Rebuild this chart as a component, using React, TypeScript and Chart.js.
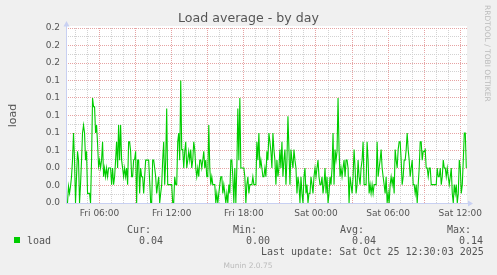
import React, { useEffect, useRef } from 'react';
import { Chart, registerables } from 'chart.js';

Chart.register(...registerables);

// ---- Data (5-minute samples, Fri 03:20 -> Sat 12:30) ----
const sampleStartHour = 3 + 20 / 60; // Fri 03:20, hours since Fri 00:00
const sampleStepHours = 5 / 60;

const loadFriMorning = [
  0, 0.019, 0.011, 0.019, 0.03, 0.049, 0.08, 0.049, 0, 0.03,
  0.059, 0.049, 0, 0.021, 0.049, 0.08, 0.089, 0.08, 0.049, 0.059,
  0.011, 0.011, 0.011, 0, 0.049, 0.12, 0.11, 0.11, 0.08, 0.089,
  0.068, 0.042, 0.049, 0.04, 0.049, 0.07, 0.03, 0.04, 0.03, 0.04,
  0.03, 0.04, 0.04, 0.04, 0.021, 0.04, 0.021, 0.03, 0.049, 0.07, 0.04, 0.089,
  0.049, 0.089, 0.049, 0.04, 0.03, 0.04, 0.03, 0.04, 0.021, 0.07,
  0.07, 0.059, 0.03, 0.03, 0.049, 0.05, 0.059, 0, 0.049, 0.049, 0.011,
  0.04, 0.03, 0.03, 0.011, 0.03, 0.049, 0.049, 0.049, 0.049, 0.025, 0,
  0, 0.049, 0.049, 0.04, 0.03, 0.011, 0.021, 0.03, 0, 0.011,
  0.021, 0.049, 0.07, 0.021, 0.049, 0.108, 0.021, 0.021, 0.021, 0.021,
  0.021, 0, 0, 0.03, 0.021, 0.021, 0.07, 0.08, 0.049, 0.14,
  0.061, 0.061, 0.04, 0.059, 0.07, 0.04, 0.049, 0.059, 0.049, 0.061,
];

const loadFriEvening = [
  0.04, 0.049, 0.07, 0.061, 0.04, 0.03, 0.04, 0.03, 0.049, 0.049,
  0.04, 0.049, 0.059, 0.04, 0.049, 0.03, 0.03, 0.089, 0.04, 0.021,
  0.03, 0.021, 0.021, 0.021, 0, 0.011, 0, 0.011, 0.021, 0.03,
  0.03, 0.011, 0.021, 0.011, 0, 0.011, 0, 0.021, 0.011, 0.049,
  0.049, 0.03, 0, 0.04, 0, 0.04, 0.108, 0.049, 0.12, 0.04,
  0.04, 0.04, 0.04, 0.03, 0, 0.021, 0.03, 0.011, 0.021, 0.021,
  0.021, 0.03, 0.021, 0.021, 0.021, 0.07, 0.049, 0.08, 0.04, 0.049,
  0.04, 0.03, 0.03, 0.04, 0.03, 0.059, 0.049, 0.08, 0.07, 0.059,
  0.04, 0.08, 0.061, 0.049, 0.021, 0.049, 0.03, 0.04, 0.061, 0.04,
  0.07, 0.03, 0.049, 0.061, 0.021, 0.049, 0.099, 0.061, 0.021, 0.061,
  0.049, 0.04, 0.061, 0.049, 0.04, 0.011, 0.03, 0.021, 0, 0.03,
  0.011, 0, 0.03, 0.04, 0.011, 0.021, 0, 0.011, 0.011, 0.03,
  0.021, 0.011, 0.03, 0.04, 0.03, 0.04, 0.049, 0.03, 0.021,
];

const loadSaturday = [
  0.021, 0.03, 0.011, 0.021, 0.04, 0.011, 0.03, 0, 0.011, 0.03,
  0.021, 0.04, 0.08, 0.021, 0.061, 0.049, 0.059, 0.12, 0.061, 0.03,
  0.04, 0.03, 0.04, 0.049, 0.03, 0.049, 0.049, 0.04, 0, 0.03,
  0.021, 0.011, 0.03, 0.061, 0.04, 0.011, 0.021, 0.049, 0.03, 0.021,
  0.04, 0.049, 0.07, 0.021, 0.021, 0.021, 0.07, 0.049, 0.011, 0.021,
  0.011, 0.021, 0.011, 0.021, 0.021, 0.021, 0.07, 0.03, 0.04, 0.049,
  0.061, 0.04, 0.03, 0.021, 0.011, 0.03, 0, 0.011, 0, 0.021,
  0.03, 0.021, 0.03, 0.011, 0.061, 0.049, 0.04, 0.061, 0.07, 0.07,
  0.049, 0.021, 0.03, 0.049, 0.049, 0.061, 0.08, 0.061, 0.049, 0.03,
  0.04, 0.049, 0.021, 0.021, 0.011, 0.021, 0, 0.021, 0.04, 0.07,
  0.07, 0.049, 0.059, 0.059, 0.061, 0.04, 0.04, 0.03, 0.04, 0.04,
  0.021, 0.021, 0.021, 0.021, 0.021, 0.021, 0.04, 0.03, 0.03, 0.04,
  0.021, 0.03, 0.049, 0.04, 0.04, 0.03, 0.04, 0.03, 0.021, 0.03,
  0.04, 0.011, 0, 0.021, 0.011, 0.021, 0, 0.011, 0.049, 0.04,
  0.011, 0.021, 0.049, 0.08, 0.08, 0.04,
];

const loadValues = [...loadFriMorning, ...loadFriEvening, ...loadSaturday];

// ---- Axes ----
const xMinHour = 3.25 - 0.5 / 12; // Fri ~03:12 (half-pixel aligned)
const xMaxHour = 36.6 - 0.5 / 12; // Sat ~12:33
const xLabelHours = [6, 12, 18, 24, 30, 36];
const xLabels = ['Fri 06:00', 'Fri 12:00', 'Fri 18:00', 'Sat 00:00', 'Sat 06:00', 'Sat 12:00'];
const yTickLabels = ['0.0', '0.0', '0.0', '0.1', '0.1', '0.1', '0.1', '0.1', '0.2', '0.2', '0.2'];
const yMax = 0.2;

// ---- Legend ----
const seriesName = 'load';
const legendHeaders = ['Cur:', 'Min:', 'Avg:', 'Max:'];
const legendValues = ['0.04', '0.00', '0.04', '0.14'];
const lastUpdate = 'Last update: Sat Oct 25 12:30:03 2025';

const MAJOR = '#E6A3A3';
const MINOR = '#D2D2D2';
const AXIS = '#C8D0F2';
const GREEN = '#00CC00';
const TEXT = '#555555';

const muninPlugin = {
  id: 'munin',
  beforeDraw(chart: any) {
    const { ctx, chartArea: a, width, height } = chart;
    ctx.save();
    ctx.fillStyle = '#F0F0F0';
    ctx.fillRect(0, 0, width, height);
    ctx.fillStyle = '#FFFFFF';
    ctx.fillRect(a.left, a.top - 2, a.right - a.left, a.bottom - a.top + 2);
    ctx.restore();
  },
  beforeDatasetsDraw(chart: any) {
    const { ctx, chartArea: a } = chart;
    ctx.save();
    ctx.strokeStyle = AXIS;
    ctx.lineWidth = 1;
    ctx.beginPath();
    ctx.moveTo(a.left + 0.5, a.top - 2);
    ctx.lineTo(a.left + 0.5, a.bottom + 1);
    ctx.moveTo(a.left, a.bottom + 0.5);
    ctx.lineTo(a.right + 1, a.bottom + 0.5);
    ctx.stroke();
    ctx.fillStyle = AXIS;
    ctx.beginPath();
    ctx.moveTo(a.left + 0.5, a.top - 7);
    ctx.lineTo(a.left - 2.5, a.top - 1.5);
    ctx.lineTo(a.left + 3.5, a.top - 1.5);
    ctx.closePath();
    ctx.fill();
    ctx.beginPath();
    ctx.moveTo(a.right + 6, a.bottom + 0.5);
    ctx.lineTo(a.right + 1, a.bottom - 2.5);
    ctx.lineTo(a.right + 1, a.bottom + 3.5);
    ctx.closePath();
    ctx.fill();
    ctx.restore();
  },
  afterDraw(chart: any) {
    const { ctx, chartArea: a } = chart;
    ctx.save();
    // title
    ctx.fillStyle = TEXT;
    ctx.font = '12.6px "DejaVu Sans"';
    ctx.textAlign = 'center';
    ctx.textBaseline = 'alphabetic';
    ctx.fillText('Load average - by day', 248.5, 22);
    // y axis title
    ctx.save();
    ctx.translate(15.5, (a.top + a.bottom) / 2);
    ctx.rotate(-Math.PI / 2);
    ctx.font = '11px "DejaVu Sans"';
    ctx.textAlign = 'center';
    ctx.fillText('load', 0, 0);
    ctx.restore();
    // watermark
    ctx.save();
    ctx.translate(485, 5);
    ctx.rotate(Math.PI / 2);
    ctx.font = '7.5px "DejaVu Sans"';
    ctx.fillStyle = '#BBBBBB';
    ctx.textAlign = 'left';
    ctx.fillText('RRDTOOL / TOBI OETIKER', 0, 0);
    ctx.restore();
    // legend
    ctx.fillStyle = GREEN;
    ctx.fillRect(14, 237, 6, 6);
    ctx.fillStyle = TEXT;
    ctx.font = '10px "DejaVu Sans Mono"';
    ctx.textAlign = 'left';
    ctx.fillText(seriesName, 27, 243.5);
    const headerX = [127, 233, 340, 447];
    const valueX = [139, 246, 352, 459];
    legendHeaders.forEach((h, i) => ctx.fillText(h, headerX[i], 232.5));
    legendValues.forEach((v, i) => ctx.fillText(v, valueX[i], 243.5));
    ctx.fillText(lastUpdate, 261, 255);
    // footer
    ctx.font = '7.5px "DejaVu Sans"';
    ctx.fillStyle = '#BBBBBB';
    ctx.textAlign = 'center';
    ctx.fillText('Munin 2.0.75', 248, 267.5);
    ctx.restore();
  },
};

export default function App() {
  const ref = useRef<HTMLCanvasElement | null>(null);
  useEffect(() => {
    document.body.style.margin = '0';
    const canvas = ref.current;
    if (!canvas) return;
    const points = loadValues.map((v, i) => ({ x: sampleStartHour + i * sampleStepHours, y: v }));
    const chart = new Chart(canvas, {
      type: 'line',
      data: {
        datasets: [
          {
            label: seriesName,
            data: points,
            borderColor: GREEN,
            borderWidth: 1.1,
            pointRadius: 0,
            tension: 0,
            fill: false,
          },
        ],
      },
      options: {
        animation: false,
        responsive: false,
        devicePixelRatio: 1,
        parsing: false,
        normalized: true,
        events: [],
        layout: { padding: { top: 28, right: 30, left: 0, bottom: 0 } },
        plugins: { legend: { display: false }, title: { display: false }, tooltip: { enabled: false } },
        scales: {
          x: {
            type: 'linear',
            min: xMinHour,
            max: xMaxHour,
            afterFit: (s: any) => { s.height = 72; },
            afterBuildTicks: (s: any) => {
              const t = [];
              for (let h = 4; h <= 36; h++) t.push({ value: h });
              s.ticks = t;
            },
            grid: {
              color: (c: any) => (c.tick && c.tick.value % 3 === 0 ? MAJOR : MINOR),
              drawTicks: false,
              lineWidth: 1,
            },
            border: { display: false, dash: [1, 1] },
            ticks: {
              autoSkip: false,
              maxRotation: 0,
              padding: 5,
              color: TEXT,
              font: { family: 'DejaVu Sans', size: 9 },
              callback: (value: any) => {
                const i = xLabelHours.indexOf(Number(value));
                return i >= 0 ? xLabels[i] : '';
              },
            },
          },
          y: {
            type: 'linear',
            min: 0,
            max: yMax,
            afterFit: (s: any) => { s.width = 66; },
            afterBuildTicks: (s: any) => {
              const t = [];
              for (let i = 0; i <= 20; i++) t.push({ value: (i * yMax) / 20 });
              s.ticks = t;
            },
            grid: {
              color: (c: any) => (c.index % 2 === 0 ? MAJOR : MINOR),
              drawTicks: false,
              lineWidth: 1,
            },
            border: { display: false, dash: [1, 1] },
            ticks: {
              autoSkip: false,
              padding: 6,
              color: TEXT,
              font: { family: 'DejaVu Sans', size: 9 },
              callback: (_v: any, index: number) => (index % 2 === 0 ? yTickLabels[index / 2] : ''),
            },
          },
        },
      },
      plugins: [muninPlugin],
    } as any);
    return () => chart.destroy();
  }, []);
  return (
    <div style={{ width: 497, height: 275, background: '#F0F0F0' }}>
      <canvas ref={ref} width={497} height={275} style={{ display: 'block', width: 497, height: 275 }} />
    </div>
  );
}
